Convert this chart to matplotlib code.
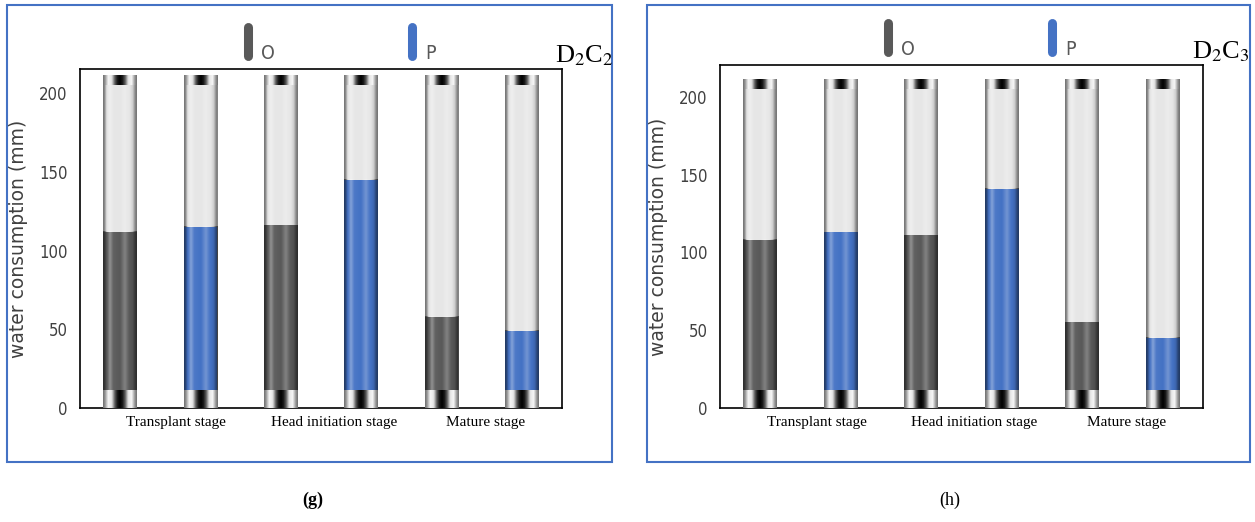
import numpy as np
import matplotlib
matplotlib.use("Agg")
import matplotlib.pyplot as plt
from matplotlib.lines import Line2D
from matplotlib.patches import Rectangle

plt.rcParams['mathtext.fontset'] = 'stix'

# data
stages = ['Transplant stage', 'Head initiation stage', 'Mature stage']
series_names = ['O', 'P']
series_colors = ['#595959', '#4472C4']
o_c2 = [112, 116, 58]
p_c2 = [115, 145, 49]
o_c3 = [108, 111, 55]
p_c3 = [113, 141, 45]
panel_tags = ['D$_2$C$_2$', 'D$_2$C$_3$']
captions = ['(g)', '(h)']
yticks = [0, 50, 100, 150, 200]

tube_height = 211
cap_low = 11
cap_high = 6
bar_w = 0.42

W, H = 1255, 522
fig = plt.figure(figsize=(W / 100, H / 100), dpi=100)


def fx(px):
    return px / W


def fy(py):
    return 1 - py / H


# shading profiles across the tube width
u = np.linspace(0, 1, 60)
body_s = np.interp(u, [0, 0.04, 0.1, 0.2, 0.3, 0.5, 0.65, 0.75, 0.88, 0.95, 1],
                   [-0.5, -0.4, -0.05, 0.35, 0.05, 0.0, 0.25, 0.05, -0.1, -0.4, -0.5])
body_rgba = np.zeros((1, len(u), 4))
body_rgba[0, :, :3] = (body_s > 0)[:, None]
body_rgba[0, :, 3] = np.abs(body_s)

cap_g = np.interp(u, [0, 0.06, 0.15, 0.25, 0.35, 0.42, 0.5, 0.58, 0.65, 0.75, 0.85, 0.94, 1],
                  [0.45, 0.6, 0.97, 0.9, 0.35, 0.1, 0.0, 0.1, 0.35, 0.9, 0.97, 0.6, 0.45])
cap_rgba = np.ones((1, len(u), 4))
cap_rgba[0, :, :3] = cap_g[:, None]


def paint(ax, patches, img):
    for p in patches:
        x0, y0 = p.get_x(), p.get_y()
        ax.imshow(img, extent=(x0, x0 + p.get_width(), y0, y0 + p.get_height()),
                  aspect='auto', interpolation='bilinear', zorder=p.get_zorder() + 0.5)


panels = [
    dict(data=[o_c2, p_c2], ax_px=(80, 69, 562, 408), dx=0, dy=0),
    dict(data=[o_c3, p_c3], ax_px=(720, 65, 1203, 408), dx=640, dy=-4),
]

for k, pan in enumerate(panels):
    l, t, r, b = pan['ax_px']
    ax = fig.add_axes([fx(l), fy(b), fx(r - l), (b - t) / H])
    px_per_unit = 1.575 if k == 0 else 1.556

    pos = np.arange(len(stages) * 2)
    vals = [pan['data'][j][i] for i in range(len(stages)) for j in range(2)]
    cols = [series_colors[j] for i in range(len(stages)) for j in range(2)]

    bg = ax.bar(pos, [tube_height] * len(pos), width=bar_w, color='#e6e6e6', zorder=3)
    paint(ax, bg, body_rgba)
    fill = ax.bar(pos, vals, width=bar_w, color=cols, zorder=5)
    paint(ax, fill, body_rgba)
    lo = ax.bar(pos, [cap_low] * len(pos), width=bar_w, color='black', zorder=7)
    paint(ax, lo, cap_rgba)
    hi = ax.bar(pos, [cap_high] * len(pos), bottom=tube_height - cap_high,
                width=bar_w, color='black', zorder=7)
    paint(ax, hi, cap_rgba)

    ax.set_xlim(-0.5, len(pos) - 0.5)
    ax.set_ylim(0, (b - t) / px_per_unit)
    ax.set_yticks(yticks)
    ax.set_yticklabels([str(v) for v in yticks], fontsize=12, color='#404040',
                       fontstretch='condensed')
    ax.set_xticks([0.7, 2.66, 4.55])
    ax.set_xticklabels(stages, fontsize=11, family='Liberation Serif')
    ax.tick_params(axis='both', length=0)
    ax.tick_params(axis='y', pad=9)
    ax.tick_params(axis='x', pad=6)
    for sp in ax.spines.values():
        sp.set_linewidth(1.2)
        sp.set_color('black')
    ax.set_ylabel('water consumption (mm)', fontsize=13.5, color='#404040')
    ax.yaxis.set_label_coords(-(l - 28 - pan['dx']) / (r - l), 0.5)

    # legend above the axes
    dx, dy = pan['dx'], pan['dy']
    for j, (name, c) in enumerate(zip(series_names, series_colors)):
        xm = 248 + dx + j * 164
        fig.add_artist(Line2D([fx(xm), fx(xm)], [fy(27 + dy), fy(56 + dy)],
                              transform=fig.transFigure, color=c, lw=6.5,
                              solid_capstyle='round'))
        fig.text(fx(xm + 13), fy(63 + dy), name, fontsize=14, color='#595959',
                 fontstretch='condensed', ha='left', va='bottom')
    fig.text(fx(584 + dx - (3 if k else 0)), fy(56 + dy), panel_tags[k], fontsize=19,
             family='Liberation Serif', ha='center', va='center')

    # panel frame and caption
    fig.add_artist(Rectangle((fx(7 + dx), fy(462)), fx(605 - (2 if k else 0)), 457 / H,
                             transform=fig.transFigure, fill=False,
                             edgecolor='#4472C4', lw=1.5))
    fig.text(fx(313 + dx - 3 * k), fy(500), captions[k], fontsize=13,
             family='Liberation Serif', fontweight='bold' if k == 0 else 'normal',
             ha='center', va='center')

fig.savefig('out.png', dpi=100)
